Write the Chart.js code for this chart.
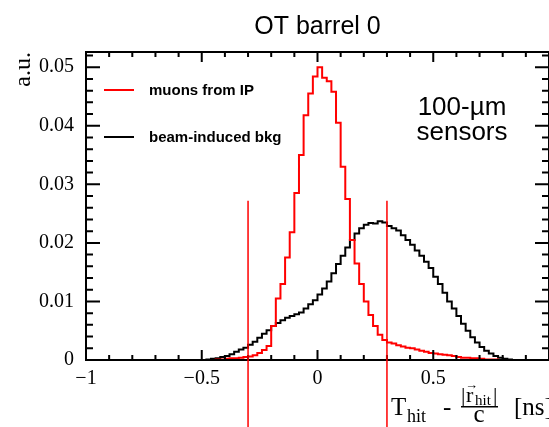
<!DOCTYPE html>
<html>
<head>
<meta charset="utf-8">
<script src="https://cdn.jsdelivr.net/npm/chart.js@4.4.1/dist/chart.umd.min.js"></script>
<style>
  html, body { margin: 0; padding: 0; background: #fff; }
  canvas { display: block; }
</style>
</head>
<body>
<canvas id="chart" width="549" height="427"></canvas>
<script>
// histogram binning, in ns
const firstEdge = -0.5;
const binWidth = 0.02;

// muons from IP, one value per bin starting at firstEdge
const muonValues = [
  0, 0, 0, 0.0001, 0.0001, 0.0002, 0.0003, 0.0003, 0.0004, 0.0005,
  0.0006, 0.0008, 0.0012, 0.0017, 0.0024, 0.0058, 0.0105, 0.0130, 0.0175, 0.0218,
  0.0285, 0.0350, 0.0418, 0.0455, 0.0484, 0.0500, 0.0482, 0.0476, 0.0458, 0.0405,
  0.0330, 0.0275, 0.0205, 0.0165, 0.0130, 0.0100, 0.0077, 0.0058, 0.0043, 0.0034,
  0.0030, 0.0028, 0.0025, 0.0023, 0.0021, 0.0020, 0.0018, 0.0016, 0.0014, 0.0012,
  0.0011, 0.0010, 0.0009, 0.0008, 0.0007, 0.0005, 0.0004, 0.0004, 0.0003, 0.0003,
  0.0002, 0.0001, 0.0001, 0.0001, 0, 0, 0, 0
];

// beam-induced background, same bins
const bkgValues = [
  0, 0.0001, 0.0002, 0.0003, 0.0005, 0.0007, 0.0010, 0.0014, 0.0018, 0.0021,
  0.0026, 0.0031, 0.0038, 0.0045, 0.0051, 0.0058, 0.0063, 0.0068, 0.0072, 0.0075,
  0.0078, 0.0081, 0.0088, 0.0095, 0.0102, 0.0112, 0.0122, 0.0134, 0.0148, 0.0164,
  0.0178, 0.0192, 0.0205, 0.0216, 0.0225, 0.0231, 0.0234, 0.0233, 0.0237, 0.0235,
  0.0229, 0.0225, 0.0221, 0.0213, 0.0205, 0.0197, 0.0187, 0.0178, 0.0168, 0.0157,
  0.0142, 0.0130, 0.0115, 0.0100, 0.0088, 0.0075, 0.0062, 0.0050, 0.0039, 0.0030,
  0.0022, 0.0016, 0.0011, 0.0007, 0.0004, 0.0002, 0.0001, 0
];

const seriesNames = ['muons from IP', 'beam-induced bkg'];
const seriesColors = ['rgb(255,0,0)', 'rgb(0,0,0)'];

const xTickValues = [-1, -0.5, 0, 0.5];
const xTickLabels = ['\u22121', '\u22120.5', '0', '0.5'];
const yTickValues = [0, 0.01, 0.02, 0.03, 0.04, 0.05];
const yTickLabels = ['0', '0.01', '0.02', '0.03', '0.04', '0.05'];

// timing cut lines
const cutValues = [-0.3, 0.3];
const cutTop = 0.0272;

const serif = '"Liberation Serif", "DejaVu Serif", serif';
const sans = '"Liberation Sans", Arial, sans-serif';

function toSteps(values) {
  const pts = values.map((v, i) => ({ x: firstEdge + i * binWidth, y: v }));
  pts.push({ x: firstEdge + values.length * binWidth, y: values[values.length - 1] });
  return pts;
}

const overlay = {
  id: 'overlay',
  afterDraw(chart) {
    const { ctx, chartArea: a, scales: { x, y } } = chart;
    ctx.save();

    // frame + inner ticks, ROOT style
    ctx.strokeStyle = '#000';
    ctx.lineWidth = 2;
    ctx.strokeRect(a.left, a.top, a.right - a.left, a.bottom - a.top);
    ctx.beginPath();
    for (let i = 0; i <= 20; i++) {
      const px = x.getPixelForValue(-1 + i * 0.1);
      const len = i % 5 === 0 ? 10 : 5;
      ctx.moveTo(px, a.bottom); ctx.lineTo(px, a.bottom - len);
      ctx.moveTo(px, a.top); ctx.lineTo(px, a.top + len);
    }
    for (let i = 0; i * 0.002 <= y.max; i++) {
      const py = y.getPixelForValue(i * 0.002);
      const len = i % 5 === 0 ? 14 : 7;
      ctx.moveTo(a.left, py); ctx.lineTo(a.left + len, py);
      ctx.moveTo(a.right, py); ctx.lineTo(a.right - len, py);
    }
    ctx.stroke();

    // cut lines, running down past the axis
    ctx.strokeStyle = seriesColors[0];
    ctx.lineWidth = 1.5;
    ctx.beginPath();
    cutValues.forEach(v => {
      const px = x.getPixelForValue(v);
      ctx.moveTo(px, y.getPixelForValue(cutTop));
      ctx.lineTo(px, chart.height);
    });
    ctx.stroke();

    // legend
    const legendY = [90, 137];
    seriesNames.forEach((name, i) => {
      ctx.strokeStyle = seriesColors[i];
      ctx.lineWidth = 2;
      ctx.beginPath();
      ctx.moveTo(104, legendY[i]);
      ctx.lineTo(134, legendY[i]);
      ctx.stroke();
      ctx.fillStyle = '#000';
      ctx.font = 'bold 15px ' + sans;
      ctx.textAlign = 'left';
      ctx.textBaseline = 'middle';
      ctx.fillText(name, 149, legendY[i] + 1);
    });

    ctx.textBaseline = 'alphabetic';
    ctx.fillStyle = '#000';

    // title
    ctx.font = '25px ' + sans;
    ctx.textAlign = 'center';
    ctx.fillText('OT barrel 0', (a.left + a.right) / 2, 34);

    // annotation
    ctx.font = '26px ' + sans;
    ctx.fillText('100-\u00b5m', 462, 115);
    ctx.fillText('sensors', 462, 140);

    // y title
    ctx.save();
    ctx.translate(30, a.top);
    ctx.rotate(-Math.PI / 2);
    ctx.font = '24px ' + serif;
    ctx.textAlign = 'right';
    ctx.fillText('a.u.', 0, 0);
    ctx.restore();

    // x title: T_hit - |r_hit|/c [ns]
    ctx.textAlign = 'left';
    ctx.font = '25px ' + serif;
    ctx.fillText('T', 391, 415);
    ctx.font = '18px ' + serif;
    ctx.fillText('hit', 407, 422);
    ctx.font = '25px ' + serif;
    ctx.fillText('-', 443, 415);
    ctx.font = '22px ' + serif;
    ctx.fillText('|', 461, 402);
    ctx.fillText('r', 466, 402);
    ctx.fillText('|', 493, 402);
    ctx.font = '15px ' + serif;
    ctx.fillText('hit', 475, 405);
    ctx.font = '13px ' + serif;
    ctx.fillText('\u2192', 465, 389);
    ctx.fillRect(461, 406, 37, 1.5);
    ctx.font = '25px ' + serif;
    ctx.textAlign = 'center';
    ctx.fillText('c', 479, 422);
    ctx.textAlign = 'left';
    ctx.fillText('[ns]', 514, 415);

    ctx.restore();
  }
};

new Chart(document.getElementById('chart'), {
  type: 'line',
  data: {
    datasets: [
      { label: seriesNames[0], data: toSteps(muonValues), borderColor: seriesColors[0] },
      { label: seriesNames[1], data: toSteps(bkgValues), borderColor: seriesColors[1] }
    ]
  },
  options: {
    responsive: false,
    animation: false,
    devicePixelRatio: 1,
    layout: { padding: { top: 52, right: 0, bottom: 0, left: 0 } },
    elements: {
      line: { borderWidth: 2, fill: false, tension: 0, stepped: 'before' },
      point: { radius: 0 }
    },
    plugins: { legend: { display: false }, tooltip: { enabled: false }, title: { display: false } },
    scales: {
      x: {
        type: 'linear', min: -1, max: 1,
        afterFit: s => { s.height = 67; },
        afterBuildTicks: s => { s.ticks = xTickValues.map(v => ({ value: v })); },
        grid: { display: false, drawTicks: false },
        border: { display: false },
        ticks: {
          padding: 7, color: '#000', maxRotation: 0,
          font: { family: serif, size: 20 },
          callback: v => xTickLabels[xTickValues.indexOf(v)]
        }
      },
      y: {
        type: 'linear', min: 0, max: 0.0526,
        afterFit: s => { s.width = 86; },
        afterBuildTicks: s => { s.ticks = yTickValues.map(v => ({ value: v })); },
        grid: { display: false, drawTicks: false },
        border: { display: false },
        ticks: {
          padding: 12, color: '#000',
          font: { family: serif, size: 20 },
          callback: v => yTickLabels[yTickValues.indexOf(v)]
        }
      }
    }
  },
  plugins: [overlay]
});
</script>
</body>
</html>
